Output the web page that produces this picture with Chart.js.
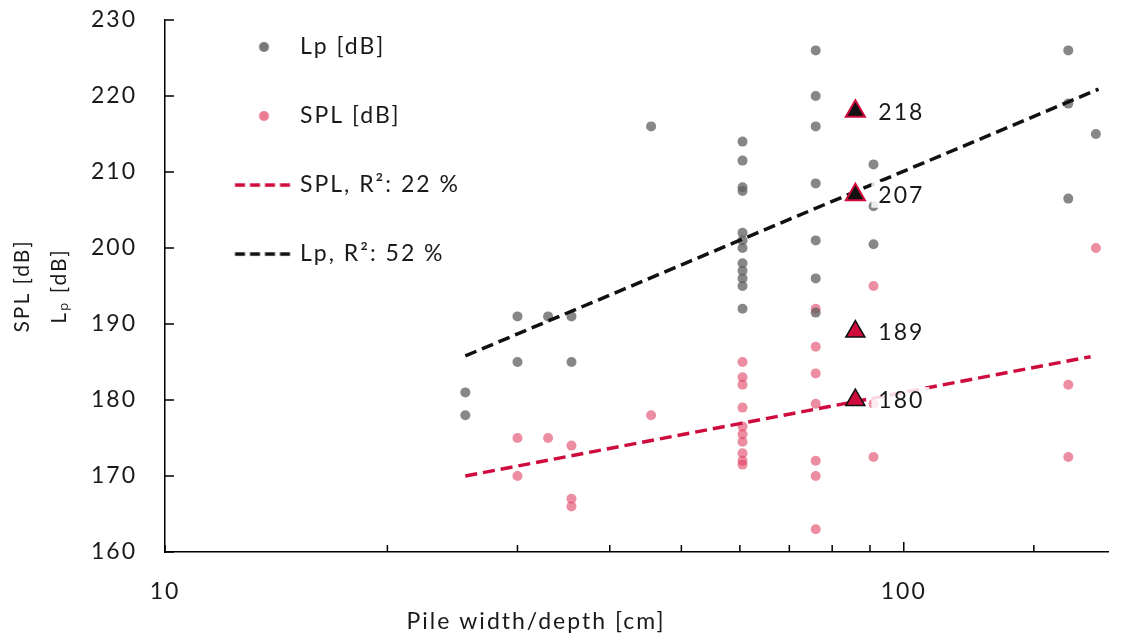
<!DOCTYPE html>
<html lang="en">
<head>
<meta charset="UTF-8">
<title>Pile width vs. sound level</title>
<script src="https://cdn.jsdelivr.net/npm/chart.js"></script>
<style>
  html, body { margin: 0; background: #fff; overflow: hidden; }
  canvas { display: block; }
</style>
</head>
<body>
<canvas id="pileChart" width="1121" height="640"></canvas>
<script>
// Lp measurements: pile width [cm] / level [dB]
const lpWidth = [25.5, 25.5, 30, 30, 33, 35.5, 35.5, 45.5,
  60.5, 60.5, 60.5, 60.5, 60.5, 60.5, 60.5, 60.5, 60.5, 60.5, 60.5, 60.5,
  76, 76, 76, 76, 76, 76, 76, 91, 91, 91, 167, 167, 167, 182];
const lpLevel = [181, 178, 191, 185, 191, 191, 185, 216,
  214, 211.5, 208, 207.5, 202, 201, 200, 198, 197, 196, 195, 192,
  226, 220, 216, 208.5, 201, 196, 191.5, 211, 205.5, 200.5, 226, 219, 206.5, 215];

// SPL measurements
const splWidth = [30, 30, 33, 35.5, 35.5, 35.5, 45.5,
  60.5, 60.5, 60.5, 60.5, 60.5, 60.5, 60.5, 60.5, 60.5, 60.5,
  76, 76, 76, 76, 76, 76, 76, 91, 91, 91, 167, 167, 182];
const splLevel = [175, 170, 175, 174, 167, 166, 178,
  185, 183, 182, 179, 176.5, 175.5, 174.5, 173, 172, 171.5,
  192, 187, 183.5, 179.5, 172, 170, 163, 195, 179.5, 172.5, 182, 172.5, 200];

// trend lines (end points)
const lpTrendWidth = [25.5, 183.5];
const lpTrendLevel = [185.8, 220.9];
const splTrendWidth = [25.5, 179];
const splTrendLevel = [170, 185.7];

// highlighted values
const markWidth = 86;
const lpMarks = [218, 207];
const splMarks = [189, 180];

const RED = '#cf0a3c';
const FONT = 'Lato, "Open Sans", sans-serif';
Chart.defaults.font.family = FONT;
Chart.defaults.color = '#1a1a1a';

const toPoints = (xs, ys) => xs.map((x, i) => ({x: x, y: ys[i]}));

// legend swatches (dot or dashed line), shifted right of the legend box centre
function swatch(draw) {
  const c = document.createElement('canvas');
  c.width = 120; c.height = 24;
  draw(c.getContext('2d'), 79.5, 12);
  return c;
}
const dotSwatch = color => swatch((ctx, x, y) => {
  ctx.fillStyle = color;
  ctx.beginPath(); ctx.arc(x, y, 5, 0, Math.PI * 2); ctx.fill();
});
const dashSwatch = color => swatch((ctx, x, y) => {
  ctx.strokeStyle = color; ctx.lineWidth = 3.5; ctx.setLineDash([10, 5]);
  ctx.beginPath(); ctx.moveTo(x - 29, y); ctx.lineTo(x + 29, y); ctx.stroke();
});
const swatches = [dotSwatch('rgba(95,95,95,0.85)'), dotSwatch('rgba(225,65,100,0.7)'),
  dashSwatch(RED), dashSwatch('#111')];

// the source text is set wide, a bit of letter spacing gets close
const wideText = {
  id: 'wideText',
  beforeUpdate(chart) { chart.ctx.letterSpacing = '2px'; },
  beforeDraw(chart) { chart.ctx.letterSpacing = '2px'; }
};

// tick marks pointing into the plot
const innerTicks = {
  id: 'innerTicks',
  beforeDatasetsDraw(chart) {
    const {ctx, chartArea, scales: {x, y}} = chart;
    ctx.save();
    ctx.strokeStyle = '#000';
    ctx.lineWidth = 1.5;
    ctx.beginPath();
    x.ticks.forEach(t => {
      if (t.value % 10 !== 0) return;
      const px = x.getPixelForValue(t.value);
      ctx.moveTo(px, chartArea.bottom);
      ctx.lineTo(px, chartArea.bottom - (t.value === 100 ? 10 : 7));
    });
    y.ticks.forEach(t => {
      const py = y.getPixelForValue(t.value);
      ctx.moveTo(chartArea.left, py);
      ctx.lineTo(chartArea.left + 9, py);
    });
    ctx.stroke();
    ctx.restore();
  }
};

// value labels next to the triangles + x axis title
const labelsPlugin = {
  id: 'labelsPlugin',
  afterDatasetsDraw(chart) {
    const ctx = chart.ctx;
    ctx.save();
    ctx.font = '23px ' + FONT;
    ctx.textBaseline = 'middle';
    chart.data.datasets.forEach((ds, i) => {
      if (!ds.markLabels) return;
      chart.getDatasetMeta(i).data.forEach((pt, j) => {
        const text = String(ds.data[j].y);
        const w = ctx.measureText(text).width;
        ctx.fillStyle = 'rgba(255,255,255,0.85)';
        ctx.fillRect(pt.x + 16, pt.y - 13, w + 12, 26);
        ctx.fillStyle = '#1a1a1a';
        ctx.fillText(text, pt.x + 23, pt.y + 1);
      });
    });
    ctx.textAlign = 'center';
    ctx.fillText('Pile width/depth [cm]', chart.chartArea.left + 371, chart.chartArea.bottom + 70);
    ctx.restore();
  }
};

new Chart(document.getElementById('pileChart'), {
  type: 'scatter',
  data: {
    datasets: [
      { label: 'Lp [dB]', data: toPoints(lpWidth, lpLevel), backgroundColor: 'rgba(95,95,95,0.75)',
        borderWidth: 0, pointRadius: 5, order: 3 },
      { label: 'SPL [dB]', data: toPoints(splWidth, splLevel), backgroundColor: 'rgba(225,65,100,0.6)',
        borderWidth: 0, pointRadius: 5, order: 3 },
      { label: 'SPL, R²: 22 %', data: toPoints(splTrendWidth, splTrendLevel), showLine: true,
        borderColor: RED, borderWidth: 3.5, borderDash: [12, 6], pointRadius: 0, order: 2 },
      { label: 'Lp, R²: 52 %', data: toPoints(lpTrendWidth, lpTrendLevel), showLine: true,
        borderColor: '#111', borderWidth: 3.5, borderDash: [12, 6], pointRadius: 0, order: 1 },
      { label: 'Lp marks', data: lpMarks.map(v => ({x: markWidth, y: v})), pointStyle: 'triangle',
        pointRadius: 11, backgroundColor: '#111', borderColor: RED, borderWidth: 2, markLabels: true, order: 0 },
      { label: 'SPL marks', data: splMarks.map(v => ({x: markWidth, y: v})), pointStyle: 'triangle',
        pointRadius: 11, backgroundColor: RED, borderColor: '#111', borderWidth: 1.5, markLabels: true, order: 0 }
    ]
  },
  options: {
    responsive: false,
    animation: false,
    layout: { padding: { top: 20, right: 0, bottom: 0, left: 0 } },
    plugins: {
      tooltip: { enabled: false },
      legend: {
        position: 'chartArea',
        align: 'start',
        labels: {
          usePointStyle: true,
          pointStyleWidth: 88,
          padding: 35.5,
          color: '#1a1a1a',
          font: { size: 23, lineHeight: 1.457 },
          sort: (a, b) => a.datasetIndex - b.datasetIndex,
          generateLabels(chart) {
            return Chart.defaults.plugins.legend.labels.generateLabels(chart)
              .filter(item => item.datasetIndex < 4)
              .map(item => Object.assign(item, {
                text: [item.text],
                pointStyle: swatches[item.datasetIndex],
                lineWidth: 0,
                lineDash: []
              }));
          }
        }
      }
    },
    scales: {
      x: {
        type: 'logarithmic',
        min: 10,
        max: 189,
        // hidden tick marks only used to push the labels away from the axis
        grid: { display: false, drawTicks: true, tickLength: 26 },
        border: { display: true, color: '#000', width: 1.5 },
        ticks: {
          autoSkip: false, maxRotation: 0, padding: 0, font: { size: 23 },
          callback: v => (v === 10 || v === 100) ? String(v) : ''
        },
        afterFit: s => { s.height = 88; s.paddingLeft = 0; s.paddingRight = 0; }
      },
      y: {
        min: 160,
        max: 230,
        grid: { display: false, drawTicks: true, tickLength: 28 },
        border: { display: true, color: '#000', width: 1.5 },
        ticks: { stepSize: 10, padding: 0, font: { size: 23 } },
        title: {
          display: true,
          text: ['SPL [dB]', 'Lₚ [dB]'],
          font: { size: 21, lineHeight: 1.8 },
          padding: { top: 3, bottom: 0 }
        },
        afterFit: s => { s.width = 165; }
      }
    }
  },
  plugins: [wideText, innerTicks, labelsPlugin]
});
</script>
</body>
</html>
